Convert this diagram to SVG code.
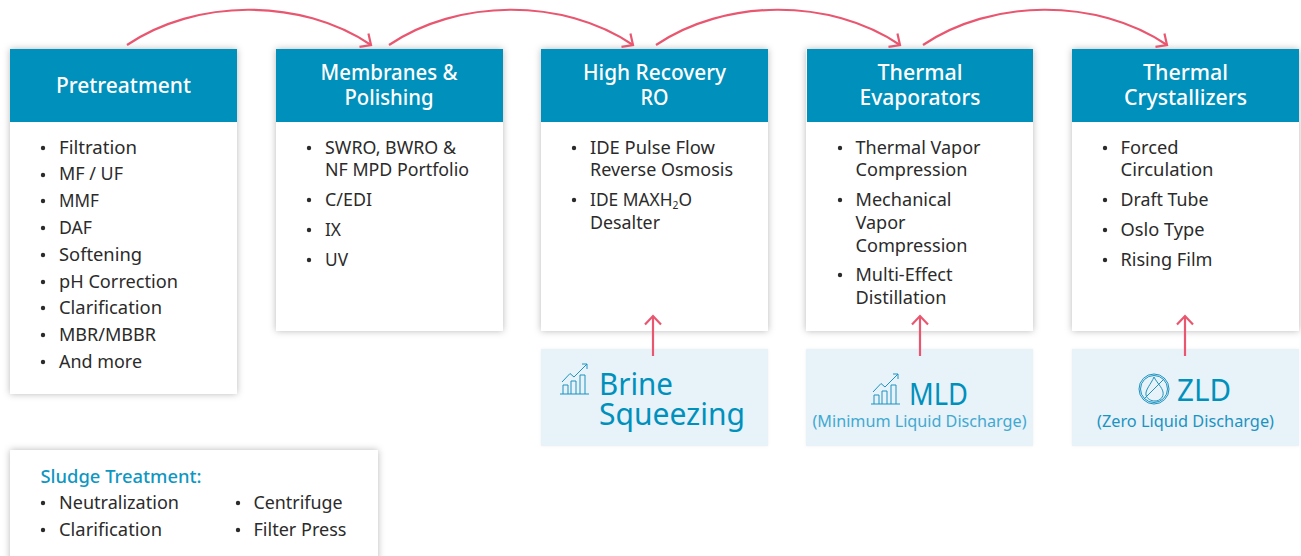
<svg xmlns="http://www.w3.org/2000/svg" width="1301" height="556" viewBox="0 0 1301 556">
<style>
text{font-family:"Noto Sans","Open Sans","Liberation Sans",sans-serif}
.h{font-size:21px;font-weight:500;fill:#fff;text-anchor:middle}
.t{font-size:18.5px;fill:#2b2b2b}
.card{fill:#fff;filter:url(#sh)}
.head{fill:#0090bc}
.pale{fill:#e7f2f9;filter:url(#soft)}
.big{fill:#0090bc}
.sub{fill:#3fa9d0;font-size:16.5px;text-anchor:middle}
.d{fill:#2b2b2b}
.c{fill:none;stroke:#e9566f;stroke-width:2.2}
.i{fill:none;stroke:#1c93c0;stroke-width:1}
</style>
<defs>
<filter id="sh" x="-10%" y="-10%" width="120%" height="120%"><feDropShadow dx="0" dy="0" stdDeviation="3.5" flood-color="#000" flood-opacity="0.28"/></filter>
<filter id="soft" x="-5%" y="-5%" width="110%" height="110%"><feDropShadow dx="0" dy="0" stdDeviation="1.5" flood-color="#000" flood-opacity="0.06"/></filter>
<marker id="a" markerWidth="18" markerHeight="20" refX="10" refY="10" orient="auto" markerUnits="userSpaceOnUse"><path d="M1.500 2L10 10L1.500 18" fill="none" stroke="#e9566f" stroke-width="2.200"/></marker>
<g id="chart" class="i"><path d="M0 24H29M3 24V15H8V24M11 24V11H16V24M20 24V5H25V24M2 12L10 3.500L14 7L27 -6M27 -6H22M27 -6V-1"/></g>
</defs>
<g id="pretreatment">
<rect class="card" x="10" y="49" width="227" height="345"/><rect class="head" x="10" y="49" width="227" height="73"/>
<text class="h" x="123.500" y="93" textLength="135" lengthAdjust="spacingAndGlyphs">Pretreatment</text>
<g class="d"><circle cx="43" cy="148" r="2.200"/><circle cx="43" cy="175" r="2.200"/><circle cx="43" cy="201" r="2.200"/><circle cx="43" cy="228" r="2.200"/><circle cx="43" cy="255" r="2.200"/><circle cx="43" cy="282" r="2.200"/><circle cx="43" cy="308" r="2.200"/><circle cx="43" cy="335" r="2.200"/><circle cx="43" cy="362" r="2.200"/></g>
<text class="t" x="59" y="154" textLength="78" lengthAdjust="spacingAndGlyphs">Filtration</text>
<text class="t" x="59" y="180" textLength="64" lengthAdjust="spacingAndGlyphs">MF / UF</text>
<text class="t" x="59" y="207" textLength="40" lengthAdjust="spacingAndGlyphs">MMF</text>
<text class="t" x="59" y="234" textLength="33" lengthAdjust="spacingAndGlyphs">DAF</text>
<text class="t" x="59" y="261" textLength="83" lengthAdjust="spacingAndGlyphs">Softening</text>
<text class="t" x="59" y="288" textLength="119" lengthAdjust="spacingAndGlyphs">pH Correction</text>
<text class="t" x="59" y="314" textLength="103" lengthAdjust="spacingAndGlyphs">Clarification</text>
<text class="t" x="59" y="341" textLength="97" lengthAdjust="spacingAndGlyphs">MBR/MBBR</text>
<text class="t" x="59" y="368" textLength="83" lengthAdjust="spacingAndGlyphs">And more</text>
</g>
<g id="membranes">
<rect class="card" x="276" y="49" width="227" height="282"/><rect class="head" x="276" y="49" width="227" height="73"/>
<text class="h" x="389" y="80" textLength="137" lengthAdjust="spacingAndGlyphs">Membranes &amp;</text>
<text class="h" x="389" y="105" textLength="89" lengthAdjust="spacingAndGlyphs">Polishing</text>
<g class="d"><circle cx="309" cy="148" r="2.200"/><circle cx="309" cy="200" r="2.200"/><circle cx="309" cy="230" r="2.200"/><circle cx="309" cy="260" r="2.200"/></g>
<text class="t" x="325" y="154" textLength="131" lengthAdjust="spacingAndGlyphs">SWRO, BWRO &amp;</text>
<text class="t" x="325" y="176" textLength="144" lengthAdjust="spacingAndGlyphs">NF MPD Portfolio</text>
<text class="t" x="325" y="206" textLength="47" lengthAdjust="spacingAndGlyphs">C/EDI</text>
<text class="t" x="325" y="236" textLength="16" lengthAdjust="spacingAndGlyphs">IX</text>
<text class="t" x="325" y="266" textLength="23" lengthAdjust="spacingAndGlyphs">UV</text>
</g>
<g id="high-recovery-ro">
<rect class="card" x="541" y="49" width="227" height="282"/><rect class="head" x="541" y="49" width="227" height="73"/>
<text class="h" x="654.500" y="80" textLength="143" lengthAdjust="spacingAndGlyphs">High Recovery</text>
<text class="h" x="654.500" y="105" textLength="28" lengthAdjust="spacingAndGlyphs">RO</text>
<g class="d"><circle cx="574" cy="148" r="2.200"/><circle cx="574" cy="200" r="2.200"/></g>
<text class="t" x="590" y="154" textLength="125" lengthAdjust="spacingAndGlyphs">IDE Pulse Flow</text>
<text class="t" x="590" y="176" textLength="143" lengthAdjust="spacingAndGlyphs">Reverse Osmosis</text>
<text class="t" x="590" y="206" textLength="102" lengthAdjust="spacingAndGlyphs">IDE MAXH<tspan font-size="11" dy="3">2</tspan><tspan dy="-3">O</tspan></text>
<text class="t" x="590" y="229" textLength="70" lengthAdjust="spacingAndGlyphs">Desalter</text>
</g>
<g id="thermal-evaporators">
<rect class="card" x="806" y="49" width="227" height="282"/><rect class="head" x="807" y="49" width="226" height="73"/>
<text class="h" x="920" y="80" textLength="85" lengthAdjust="spacingAndGlyphs">Thermal</text>
<text class="h" x="920" y="105" textLength="121" lengthAdjust="spacingAndGlyphs">Evaporators</text>
<g class="d"><circle cx="840" cy="148" r="2.200"/><circle cx="840" cy="200" r="2.200"/><circle cx="840" cy="275" r="2.200"/></g>
<text class="t" x="855.500" y="154" textLength="125" lengthAdjust="spacingAndGlyphs">Thermal Vapor</text>
<text class="t" x="855.500" y="176" textLength="112" lengthAdjust="spacingAndGlyphs">Compression</text>
<text class="t" x="855.500" y="206" textLength="96" lengthAdjust="spacingAndGlyphs">Mechanical</text>
<text class="t" x="855.500" y="229" textLength="50" lengthAdjust="spacingAndGlyphs">Vapor</text>
<text class="t" x="855.500" y="252" textLength="112" lengthAdjust="spacingAndGlyphs">Compression</text>
<text class="t" x="855.500" y="281" textLength="97" lengthAdjust="spacingAndGlyphs">Multi-Effect</text>
<text class="t" x="855.500" y="304" textLength="91" lengthAdjust="spacingAndGlyphs">Distillation</text>
</g>
<g id="thermal-crystallizers">
<rect class="card" x="1072" y="49" width="227" height="282"/><rect class="head" x="1072" y="49" width="227" height="73"/>
<text class="h" x="1185.500" y="80" textLength="85" lengthAdjust="spacingAndGlyphs">Thermal</text>
<text class="h" x="1185.500" y="105" textLength="123" lengthAdjust="spacingAndGlyphs">Crystallizers</text>
<g class="d"><circle cx="1105" cy="148" r="2.200"/><circle cx="1105" cy="200" r="2.200"/><circle cx="1105" cy="230" r="2.200"/><circle cx="1105" cy="260" r="2.200"/></g>
<text class="t" x="1120.500" y="154" textLength="58" lengthAdjust="spacingAndGlyphs">Forced</text>
<text class="t" x="1120.500" y="176" textLength="93" lengthAdjust="spacingAndGlyphs">Circulation</text>
<text class="t" x="1120.500" y="206" textLength="88" lengthAdjust="spacingAndGlyphs">Draft Tube</text>
<text class="t" x="1120.500" y="236" textLength="84" lengthAdjust="spacingAndGlyphs">Oslo Type</text>
<text class="t" x="1120.500" y="266" textLength="92" lengthAdjust="spacingAndGlyphs">Rising Film</text>
</g>
<g id="brine-squeezing">
<rect class="pale" x="541" y="349" width="227" height="97"/>
<use href="#chart" x="560" y="370"/>
<text class="big" x="599" y="395" font-size="30" textLength="74" lengthAdjust="spacingAndGlyphs">Brine</text>
<text class="big" x="599" y="425" font-size="30" textLength="146" lengthAdjust="spacingAndGlyphs">Squeezing</text>
</g>
<g id="mld">
<rect class="pale" x="806" y="349" width="227" height="97"/>
<use href="#chart" x="871" y="380"/>
<text class="big" x="909" y="405" font-size="30" textLength="59" lengthAdjust="spacingAndGlyphs">MLD</text>
<text class="sub" x="919.500" y="427" textLength="214" lengthAdjust="spacingAndGlyphs">(Minimum Liquid Discharge)</text>
</g>
<g id="zld">
<rect class="pale" x="1072" y="349" width="227" height="97"/>
<g class="i"><circle cx="1154" cy="389" r="15"/><circle cx="1154" cy="389" r="13.500"/><path d="M1154 377C1151 384 1145 390 1146 395C1147 399 1151 401 1155 401C1160 401 1164 397 1163 392C1162 387 1157 383 1154 377ZM1143 400L1165 378"/></g>
<text class="big" x="1177" y="401" font-size="30" textLength="54" lengthAdjust="spacingAndGlyphs">ZLD</text>
<text class="sub" x="1185.500" y="427" textLength="177" lengthAdjust="spacingAndGlyphs" style="fill:#1c93c0">(Zero Liquid Discharge)</text>
</g>
<g id="sludge-treatment">
<rect class="card" x="10" y="450" width="368" height="120"/>
<text x="40.500" y="483" font-size="18.500" font-weight="500" fill="#0f97c2" textLength="161" lengthAdjust="spacingAndGlyphs">Sludge Treatment:</text>
<g class="d"><circle cx="43" cy="503" r="2.200"/><circle cx="43" cy="530" r="2.200"/><circle cx="238" cy="503" r="2.200"/><circle cx="238" cy="530" r="2.200"/></g>
<text class="t" x="59" y="509" textLength="120" lengthAdjust="spacingAndGlyphs">Neutralization</text>
<text class="t" x="59" y="536" textLength="103" lengthAdjust="spacingAndGlyphs">Clarification</text>
<text class="t" x="253.500" y="509" textLength="89" lengthAdjust="spacingAndGlyphs">Centrifuge</text>
<text class="t" x="253.500" y="536" textLength="93" lengthAdjust="spacingAndGlyphs">Filter Press</text>
</g>
<g id="connectors">
<path class="c" marker-end="url(#a)" d="M127 45C195 -1 300 -3 371 45"/>
<path class="c" marker-end="url(#a)" d="M389 45C457 -1 562 -3 633 45"/>
<path class="c" marker-end="url(#a)" d="M656 45C724 -1 829 -3 900 45"/>
<path class="c" marker-end="url(#a)" d="M923 45C991 -1 1096 -3 1167 45"/>
<path class="c" marker-end="url(#a)" d="M653 356V316"/>
<path class="c" marker-end="url(#a)" d="M920 356V316"/>
<path class="c" marker-end="url(#a)" d="M1185 356V316"/>
</g>
</svg>
